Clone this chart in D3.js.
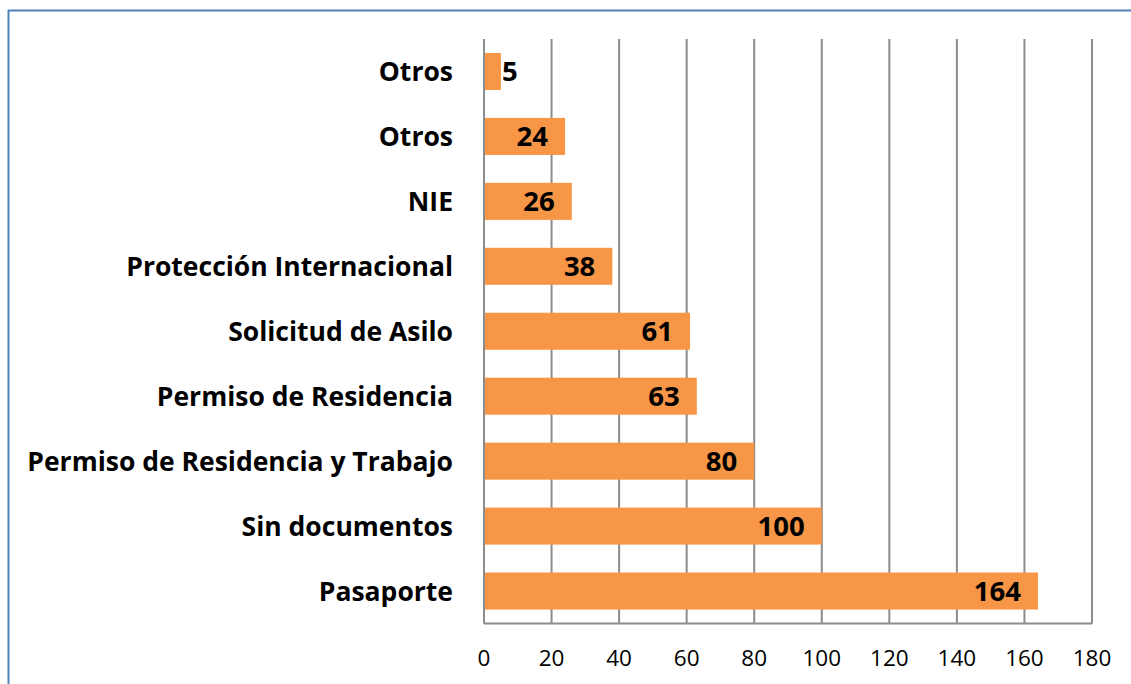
<!DOCTYPE html>
<html><head><meta charset="utf-8">
<script src="https://cdn.jsdelivr.net/npm/d3@7"></script>
<style>body{margin:0;background:#fff;}svg{display:block;font-family:"Open Sans",sans-serif;}</style>
</head><body>
<svg id="c" width="1131" height="684"></svg>
<script>
const categories = ["Otros","Otros","NIE","Protección Internacional","Solicitud de Asilo","Permiso de Residencia","Permiso de Residencia y Trabajo","Sin documentos","Pasaporte"];
const values = [5,24,26,38,61,63,80,100,164];
const ticks = [0,20,40,60,80,100,120,140,160,180];

(function(){
const svg = d3.select("#c");
svg.append("line").attr("x1",8).attr("x2",1131).attr("y1",10.5).attr("y2",10.5).attr("stroke","#4f81bd").attr("stroke-width",2);
svg.append("line").attr("x1",8.5).attr("x2",8.5).attr("y1",10).attr("y2",684).attr("stroke","#4f81bd").attr("stroke-width",2);

const pl=484, pr=1092, pt=39, pb=623.5;
const x = d3.scaleLinear().domain([0,180]).range([pl,pr]);
const y = d3.scaleBand().domain(categories.map((c,i)=>i)).range([pt,pb]).paddingInner(0.43).paddingOuter(0.215);

svg.append("g").selectAll("line").data(ticks).join("line")
  .attr("x1",d=>x(d)).attr("x2",d=>x(d)).attr("y1",pt).attr("y2",pb)
  .attr("stroke","#8c8c8c").attr("stroke-width",2);
svg.append("line").attr("x1",pl).attr("x2",pr).attr("y1",pb).attr("y2",pb).attr("stroke","#8c8c8c").attr("stroke-width",2);

svg.append("g").selectAll("rect").data(values).join("rect")
  .attr("x",x(0)+1).attr("y",(d,i)=>y(i)).attr("width",d=>x(d)-x(0)-1).attr("height",y.bandwidth())
  .attr("fill","#f79646");

svg.append("g").selectAll("text").data(values).join("text")
  .attr("x",d=> x(d)-x(0) < 40 ? x(d)+1 : x(d)-17)
  .attr("text-anchor",d=> x(d)-x(0) < 40 ? "start" : "end")
  .attr("y",(d,i)=>y(i)+y.bandwidth()/2+10)
  .attr("font-size",27.5).attr("font-weight","bold").attr("fill","#000")
  .text(d=>d);

svg.append("g").selectAll("text").data(categories).join("text")
  .attr("x",453).attr("text-anchor","end")
  .attr("y",(d,i)=>y(i)+y.bandwidth()/2+10)
  .attr("font-size",26.5).attr("font-weight","bold").attr("fill","#000")
  .text(d=>d);

svg.append("g").selectAll("text").data(ticks).join("text")
  .attr("x",d=>x(d)).attr("text-anchor","middle").attr("y",666)
  .attr("font-size",22.5).attr("fill","#000")
  .text(d=>d);
})();
</script>
</body></html>
